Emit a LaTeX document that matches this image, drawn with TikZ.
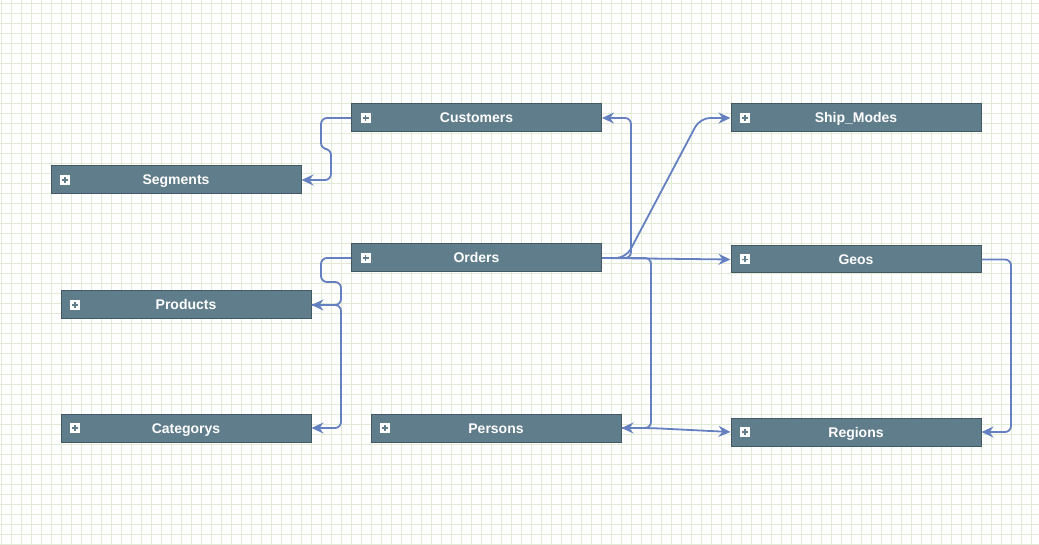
\documentclass[tikz,border=0pt]{standalone}
\usepackage{fontspec}
\setmainfont{Liberation Sans}
\usetikzlibrary{arrows.meta}
\definecolor{ERDslate}{RGB}{96,125,139}
\definecolor{ERDdslate}{RGB}{66,88,99}
\definecolor{ERDblue}{RGB}{100,128,192}
\definecolor{ERDgridgreen}{RGB}{224,234,212}
\tikzstyle{ERDgrid}=[draw=ERDgridgreen, line width=1pt]
\tikzstyle{ERDtable}=[fill=ERDslate, draw=ERDdslate, line width=1pt,
    minimum width=250pt, minimum height=28pt, inner sep=0pt,
    text height=10pt, text depth=0pt,
    text=white, font=\fontsize{14}{16}\selectfont\bfseries,
    path picture={
        \fill[white] ([xshift=9pt,yshift=-5pt]path picture bounding box.west) rectangle ++(10pt,10pt);
        \draw[ERDslate, line width=1.6pt] ([xshift=11pt]path picture bounding box.west) -- ++(6pt,0pt);
        \draw[ERDslate, line width=1.6pt] ([xshift=14pt,yshift=-3pt]path picture bounding box.west) -- ++(0pt,6pt);
    }]
\tikzstyle{ERDlink}=[draw=ERDblue, line width=1.8pt, rounded corners=6pt,
    -{Stealth[length=12pt, width=11pt, inset=4pt]}]

\begin{document}
\begin{tikzpicture}[x=1pt, y=-1pt]
    \path [use as bounding box] (0,0) rectangle (1039,545);
    % background grid
    \foreach \gx in {1,11,...,1031} \draw[ERDgrid] (\gx,0) -- (\gx,545);
    \foreach \gy in {4,14,...,544} \draw[ERDgrid] (0,\gy) -- (1039,\gy);
    % tables
    \node [ERDtable] (cust) at (476.5,118) {Customers};
    \node [ERDtable] (seg)  at (176,180)   {Segments};
    \node [ERDtable] (ord)  at (476.5,258) {Orders};
    \node [ERDtable] (prod) at (186,305)   {Products};
    \node [ERDtable] (cat)  at (186,428)   {Categorys};
    \node [ERDtable] (pers) at (496,428)   {Persons};
    \node [ERDtable] (ship) at (856,118)   {Ship\_Modes};
    \node [ERDtable, minimum height=27pt] (geo) at (856,259.5) {Geos};
    \node [ERDtable] (reg)  at (856,432)   {Regions};
    % links
    \draw [ERDlink] (cust.west) -| (321,149) -- (331,149) |- (seg.east);
    \draw [ERDlink] (ord.west) -| (321,282) -- (341,282) |- (prod.east);
    \draw [ERDlink] (prod.east) -- (341,305) |- (cat.east);
    \draw [ERDlink] (ord.east) -- (631,258) |- (cust.east);
    \draw [ERDlink, rounded corners=10pt] (ord.east) -- (626,258) -- (700,118) -- (ship.west);
    \draw [ERDlink] (ord.east) -- (geo.west);
    \draw [ERDlink] (ord.east) -- (651,258) |- (pers.east);
    \draw [ERDlink, rounded corners=10pt] (pers.east) -- (650,428) -- (reg.west);
    \draw [ERDlink] (geo.east) -- (1011,259.5) |- (reg.east);
\end{tikzpicture}
\end{document}
